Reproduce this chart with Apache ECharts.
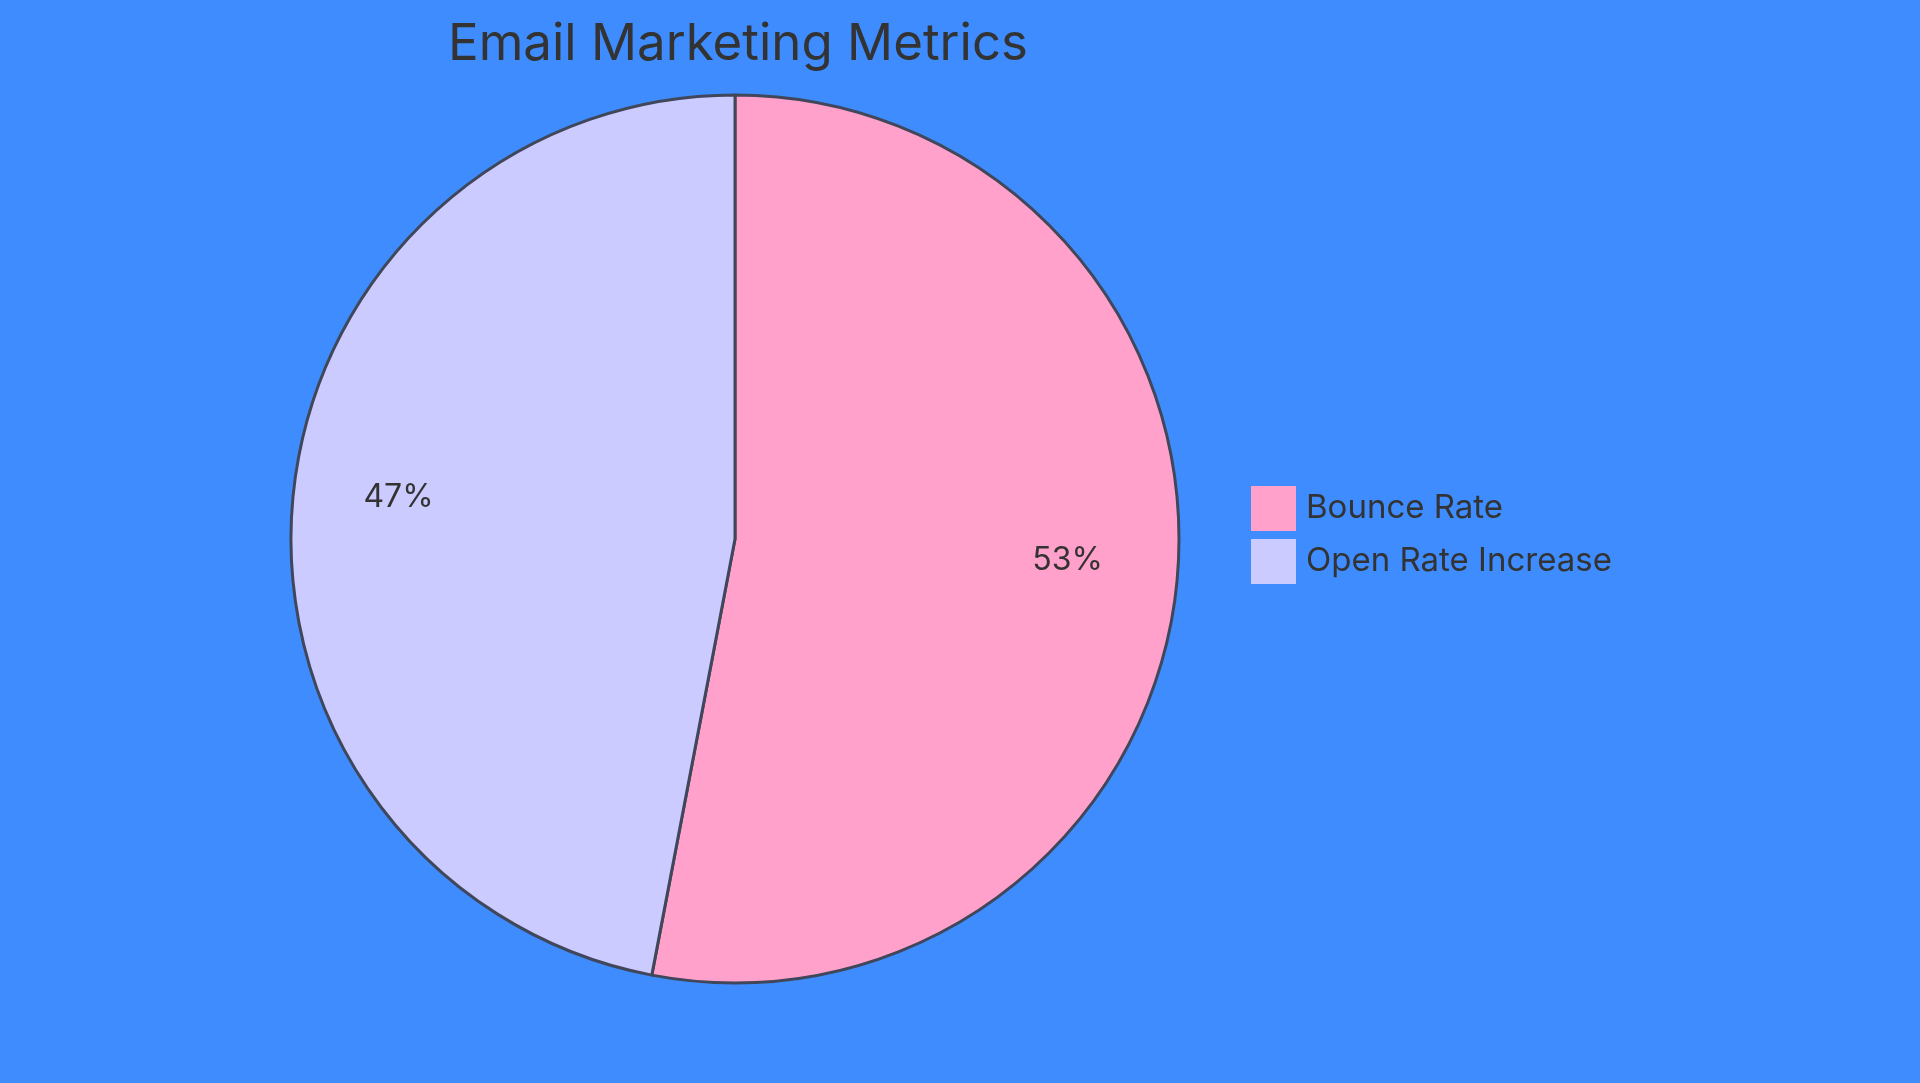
<!DOCTYPE html>
<html>
<head>
<meta charset="utf-8">
<script src="https://cdn.jsdelivr.net/npm/echarts@6/dist/echarts.min.js"></script>
<style>
html,body{margin:0;padding:0;background:#3f8cfe;}
#main{width:1920px;height:1083px;}
</style>
</head>
<body>
<div id="main"></div>
<script>
const titleText = 'Email Marketing Metrics';
const categories = ['Bounce Rate', 'Open Rate Increase'];
const values = [53, 47];
const colors = ['#ffa1ca', '#cbcbff'];

const chart = echarts.init(document.getElementById('main'));
const data = categories.map((c, i) => ({ name: c, value: values[i], itemStyle: { color: colors[i] } }));
const labelData = categories.map((c, i) => ({ name: c, value: values[i] }));

chart.setOption({
  backgroundColor: '#3f8cfe',
  animation: false,
  title: {
    text: titleText,
    left: 733,
    top: 14,
    textAlign: 'center',
    textStyle: { fontFamily: 'Inter', fontWeight: 'normal', fontSize: 51, color: '#333333' }
  },
  legend: {
    orient: 'vertical',
    left: 1251,
    top: 486,
    padding: 0,
    itemWidth: 45,
    itemHeight: 45,
    itemGap: 8,
    icon: 'rect',
    itemStyle: { borderWidth: 0 },
    data: categories,
    textStyle: { fontFamily: 'Inter', fontSize: 33, color: '#333333', padding: [0, 0, 0, 5] }
  },
  series: [
    {
      type: 'pie',
      center: [735, 539],
      radius: [0, 444],
      startAngle: 90,
      clockwise: true,
      silent: true,
      itemStyle: { borderColor: '#40475b', borderWidth: 3 },
      label: { show: false },
      labelLine: { show: false },
      data: data
    },
    {
      type: 'pie',
      center: [735, 539],
      radius: [222, 444],
      startAngle: 90,
      clockwise: true,
      silent: true,
      itemStyle: { color: 'rgba(0,0,0,0)', borderWidth: 0 },
      label: {
        show: true,
        position: 'inside',
        offset: [-2, -10],
        formatter: p => Math.round(p.percent) + '%',
        fontFamily: 'Inter',
        fontSize: 32,
        color: '#333333'
      },
      labelLine: { show: false },
      data: labelData
    }
  ]
});
</script>
</body>
</html>
